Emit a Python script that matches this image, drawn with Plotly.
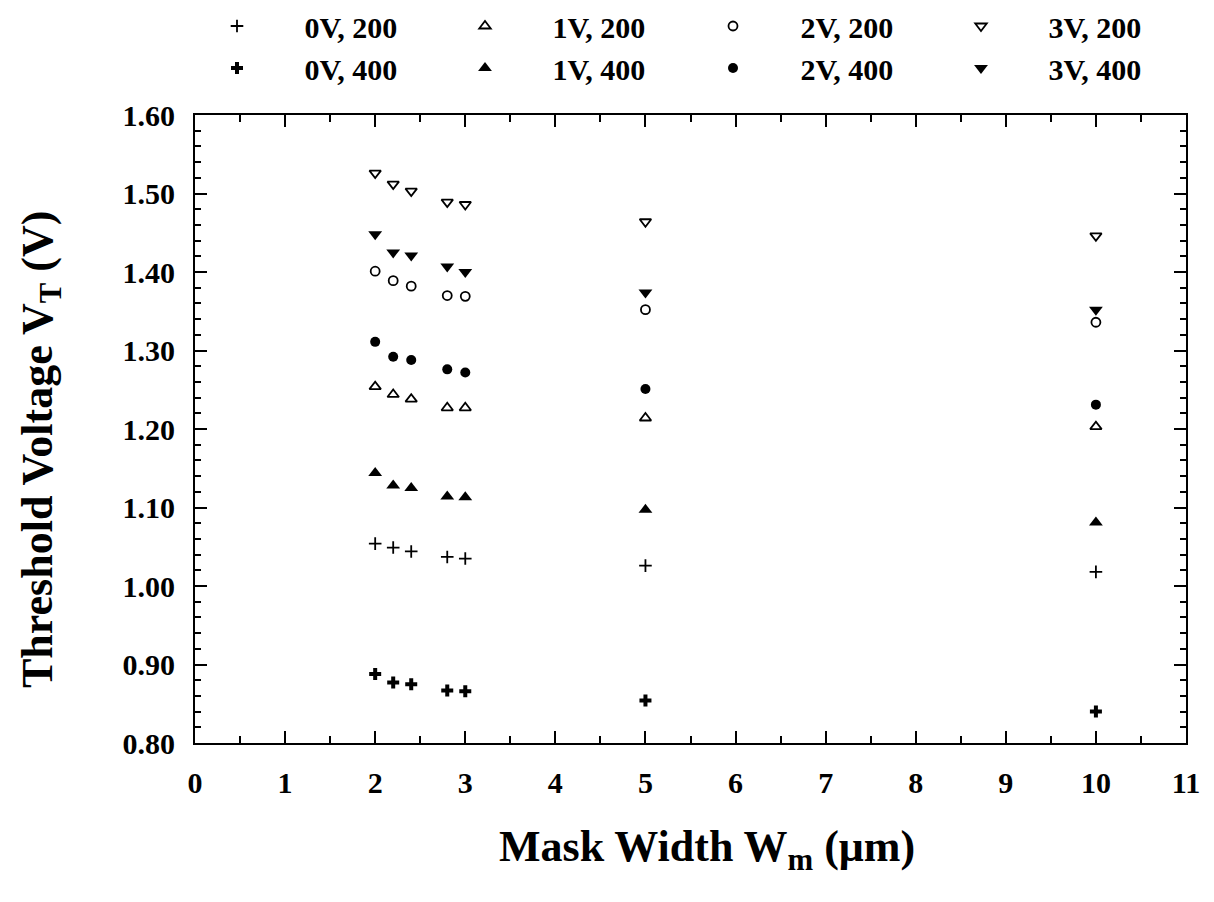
import plotly.graph_objects as go

# Mask width (um)
mask_width = [2.0, 2.2, 2.4, 2.8, 3.0, 5.0, 10.0]

# Threshold voltage (V) per series
vt_0v_200 = [1.054, 1.049, 1.044, 1.037, 1.035, 1.026, 1.018]
vt_0v_400 = [0.888, 0.877, 0.875, 0.867, 0.866, 0.854, 0.840]
vt_1v_200 = [1.254, 1.244, 1.238, 1.227, 1.227, 1.214, 1.203]
vt_1v_400 = [1.144, 1.128, 1.125, 1.114, 1.113, 1.097, 1.081]
vt_2v_200 = [1.401, 1.389, 1.382, 1.370, 1.369, 1.352, 1.336]
vt_2v_400 = [1.311, 1.292, 1.288, 1.276, 1.272, 1.251, 1.231]
vt_3v_200 = [1.526, 1.512, 1.503, 1.489, 1.486, 1.464, 1.446]
vt_3v_400 = [1.448, 1.425, 1.421, 1.407, 1.400, 1.374, 1.352]

series_names = ["0V, 200", "1V, 200", "2V, 200", "3V, 200",
                "0V, 400", "1V, 400", "2V, 400", "3V, 400"]
series_values = [vt_0v_200, vt_1v_200, vt_2v_200, vt_3v_200,
                 vt_0v_400, vt_1v_400, vt_2v_400, vt_3v_400]
series_symbols = ["cross-thin-open", "triangle-up-open", "circle-open", "triangle-down-open",
                  "cross", "triangle-up", "circle", "triangle-down"]
series_sizes = [9, 10, 9, 10, 10, 12, 10, 12]

y_ticks = [0.80, 0.90, 1.00, 1.10, 1.20, 1.30, 1.40, 1.50, 1.60]
x_ticks = list(range(0, 12))

x_title = "Mask Width W<sub>m</sub> (μm)"
y_title = "Threshold Voltage V<sub>T</sub> (V)"

FONT = "Liberation Serif"
PAD = "\u2003\u2002\u200a"

fig = go.Figure()
for name, vals, sym, sz in zip(series_names, series_values, series_symbols, series_sizes):
    fig.add_trace(go.Scatter(
        x=mask_width, y=vals, mode="markers", name=PAD + name,
        marker=dict(symbol=sym, size=sz, color="black",
                    line=dict(color="black", width=1.8 if "open" in sym else 0)),
    ))

fig.update_layout(
    width=1214, height=902,
    paper_bgcolor="white", plot_bgcolor="white",
    margin=dict(l=195, r=28, t=115, b=159, autoexpand=False),
    font=dict(family=FONT, color="black", size=27),
    showlegend=True,
    legend=dict(
        orientation="h", x=217 / 1214, xref="container", y=1.0, yref="container",
        xanchor="left", yanchor="top",
        entrywidth=203, entrywidthmode="pixels", itemwidth=30,
        font=dict(family=FONT, size=30, weight="bold"),
        bgcolor="rgba(0,0,0,0)", tracegroupgap=0,
    ),
    annotations=[
        dict(text=x_title, xref="paper", yref="paper", x=(707 - 195) / (1214 - 195 - 28),
             y=-(850 - 743) / (743 - 115), xanchor="center", yanchor="middle",
             showarrow=False, font=dict(family=FONT, size=44, weight="bold")),
        dict(text=y_title, xref="paper", yref="paper", x=-(195 - 40) / (1214 - 195 - 28),
             y=(743 - 450) / (743 - 115), xanchor="center", yanchor="middle", textangle=-90,
             showarrow=False, font=dict(family=FONT, size=44, weight="bold")),
    ],
)

fig.update_xaxes(
    range=[0, 11], tickvals=x_ticks, ticktext=[str(v) for v in x_ticks],
    ticks="inside", ticklen=12, tickwidth=2, tickcolor="black",
    minor=dict(dtick=0.5, ticks="inside", ticklen=7, tickwidth=1.5, tickcolor="black"),
    showline=True, linewidth=2, linecolor="black", mirror="ticks",
    showgrid=False, zeroline=False,
    tickfont=dict(family=FONT, size=30, weight="bold"),
    ticklabelstandoff=12,
)
fig.update_yaxes(
    range=[0.80, 1.60], tickvals=y_ticks, ticktext=[f"{v:.2f}" for v in y_ticks],
    ticks="inside", ticklen=12, tickwidth=2, tickcolor="black",
    minor=dict(dtick=0.02, ticks="inside", ticklen=6, tickwidth=1.5, tickcolor="black"),
    showline=True, linewidth=2, linecolor="black", mirror="ticks",
    showgrid=False, zeroline=False,
    tickfont=dict(family=FONT, size=30, weight="bold"),
    ticklabelstandoff=12,
)

fig.write_html("out.html")
